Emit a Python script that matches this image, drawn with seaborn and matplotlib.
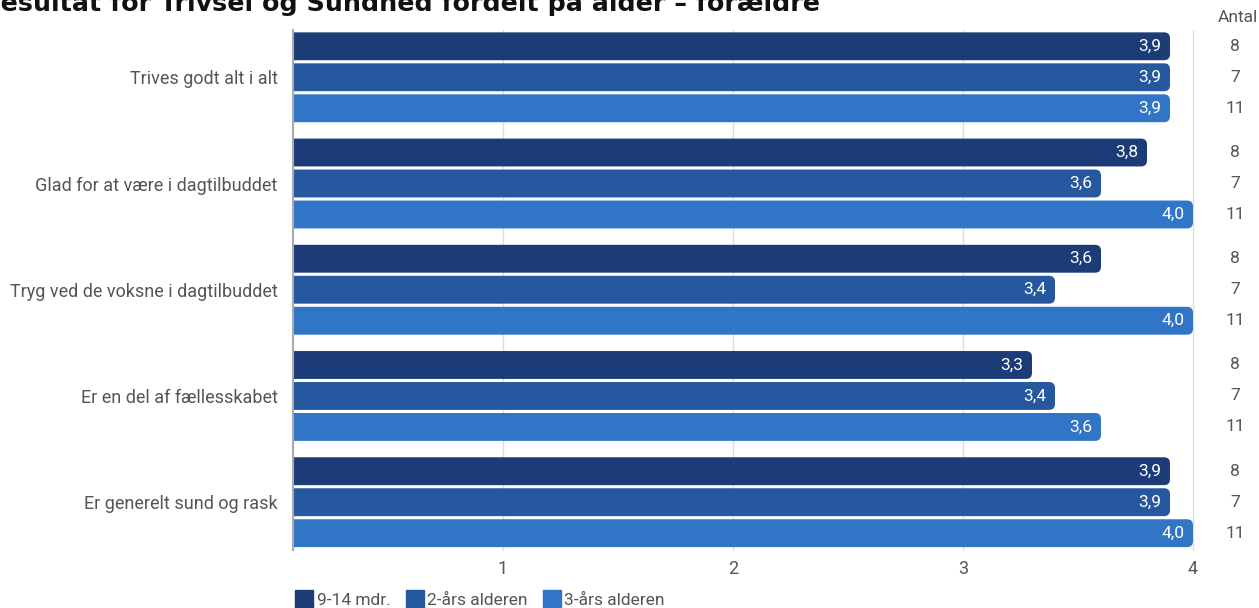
import pandas as pd
import matplotlib.pyplot as plt
import seaborn as sns
from matplotlib.patches import FancyBboxPatch
from matplotlib.lines import Line2D

# data
questions = ['Trives godt alt i alt', 'Glad for at være i dagtilbuddet',
             'Tryg ved de voksne i dagtilbuddet', 'Er en del af fællesskabet',
             'Er generelt sund og rask']
groups = ['9-14 mdr.', '2-års alderen', '3-års alderen']
vals_9_14 = [3.9, 3.8, 3.6, 3.3, 3.9]
vals_2aar = [3.9, 3.6, 3.4, 3.4, 3.9]
vals_3aar = [3.9, 4.0, 4.0, 3.6, 4.0]
antal = [8, 7, 11]
colors = ['#1c3c78', '#25589f', '#3175c7']
xticks = [1, 2, 3, 4]

sns.set_theme(style='white')
plt.rcParams['font.family'] = ['Roboto', 'DejaVu Sans']

df = pd.DataFrame({
    'spm': questions * 3,
    'gruppe': [g for g in groups for _ in questions],
    'score': vals_9_14 + vals_2aar + vals_3aar,
})

fig = plt.figure(figsize=(12.59, 6.08), dpi=100)
ax = fig.add_axes([293 / 1259, 1 - 550 / 608, 900 / 1259, 520 / 608])

sns.barplot(data=df, y='spm', x='score', hue='gruppe', order=questions,
            hue_order=groups, palette=colors, width=0.875, gap=0.1,
            saturation=1, legend=False, ax=ax, zorder=2)

# swap the square bars for ones with rounded ends
x_per_px = (4 - 0.087) / 900
y_per_px = 4.895 / 520
for p in list(ax.patches):
    x0, y0 = p.get_x(), p.get_y()
    w, h = p.get_width(), p.get_height()
    fc = p.get_facecolor()
    p.remove()
    rb = FancyBboxPatch((x0, y0), w, h,
                        boxstyle=f'round,pad=0,rounding_size={6 * x_per_px}',
                        mutation_aspect=y_per_px / x_per_px,
                        fc=fc, ec='none', zorder=2)
    ax.add_patch(rb)
    ax.annotate(f'{w:.1f}'.replace('.', ','), xy=(x0 + w, y0 + h / 2),
                xytext=(-6, 0), textcoords='offset points',
                ha='right', va='center', color='white', fontsize=12.5, zorder=3)

ax.set_xlim(0.087, 4)
ax.set_ylim(4.45, -0.445)
ax.set_xticks(xticks)
ax.set_xticklabels([str(t) for t in xticks])
ax.set_xlabel('')
ax.set_ylabel('')
ax.grid(axis='x', color='#dddddd', linewidth=1, zorder=0)
ax.grid(axis='y', visible=False)
for gl in ax.get_xgridlines():
    gl.set_clip_on(False)
for s in ['top', 'right', 'bottom']:
    ax.spines[s].set_visible(False)
ax.spines['left'].set_color('#aaaaaa')
ax.spines['left'].set_linewidth(1.5)
ax.spines['left'].set_zorder(3)
ax.tick_params(axis='x', length=0, pad=7, labelsize=13, labelcolor='#555555')
ax.tick_params(axis='y', length=0, pad=11, labelsize=13, labelcolor='#555555')

# Antal column to the right
tr = ax.get_yaxis_transform()
offsets = [-0.2918, 0, 0.2918]
for i in range(len(questions)):
    for k, n in enumerate(antal):
        ax.text(1.047, i + offsets[k], str(n), transform=tr, ha='center',
                va='center', fontsize=12.5, color='#555555', clip_on=False)
fig.text(1238 / 1259, 1 - 18 / 608, 'Antal', ha='center', va='center',
         fontsize=12.5, color='#555555')

fig.text(-0.015, 1 - 11 / 608,
         'Resultat for Trivsel og Sundhed fordelt på alder – forældre',
         ha='left', va='baseline', fontsize=18.3, fontweight='bold',
         color='#111111', family='DejaVu Sans')

handles = [Line2D([], [], marker='s', linestyle='none', markersize=13,
                  markerfacecolor=c, markeredgecolor=c) for c in colors]
fig.legend(handles, groups, loc='center left', ncol=3, frameon=False,
           bbox_to_anchor=(287 / 1259, 1 - 600 / 608), fontsize=12.5,
           labelcolor='#555555', handletextpad=0.1, columnspacing=0.8,
           handlelength=1.2, borderaxespad=0)

fig.savefig('out.png', dpi=100)
